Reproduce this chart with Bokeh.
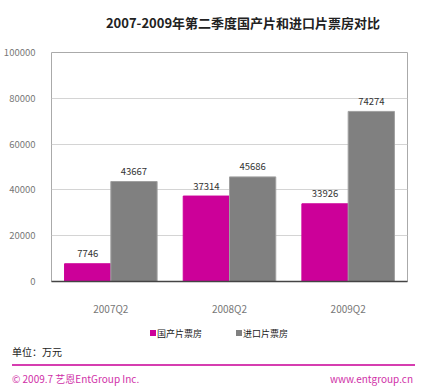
from bokeh.plotting import figure
from bokeh.layouts import column
from bokeh.models import (ColumnDataSource, FactorRange, Range1d, FixedTicker, BasicTickFormatter,
                          LabelSet, Div)
from bokeh.transform import dodge
from bokeh.core.properties import value
from bokeh.embed import file_html
from bokeh.resources import INLINE

categories = ["2007Q2", "2008Q2", "2009Q2"]
domestic = [7746, 37314, 33926]
imported = [43667, 45686, 74274]
y_ticks = [0, 20000, 40000, 60000, 80000, 100000]
series_names = ["国产片票房", "进口片票房"]
title_text = "2007-2009年第二季度国产片和进口片票房对比"
unit_text = "单位：万元"
footer_left = "© 2009.7 艺恩EntGroup Inc."
footer_right = "www.entgroup.cn"

MAGENTA = "#CC0099"
GRAY = "#808080"
FOOT = "#D030A8"
FONT = "Noto Sans CJK SC"
W = 414
DW = 420


def span(x, y, text, size, color, anchor="left", weight="normal"):
    tx = {"left": "0", "center": "-50%", "right": "-100%"}[anchor]
    return (f'<span style="position:absolute;left:{x}px;top:{y}px;'
            f'transform:translate({tx},-50%);white-space:nowrap;line-height:1;'
            f'font-family:\'{FONT}\';font-size:{size};font-weight:{weight};color:{color}">'
            f'{text}</span>')


def box(x, y, w, h, color):
    return (f'<span style="position:absolute;left:{x}px;top:{y}px;width:{w}px;height:{h}px;'
            f'background:{color}"></span>')


def wrap(h, inner):
    return f'<div style="position:relative;width:{DW}px;height:{h}px;background:white">{inner}</div>'


# header
head = Div(text=wrap(44, span(243, 22, title_text, "13px", "#222222", "center", "bold")),
           width=DW, height=44, margin=0)

# main chart
source = ColumnDataSource(dict(cat=categories, dom=domestic, imp=imported,
                               dom_t=[str(v) for v in domestic],
                               imp_t=[str(v) for v in imported]))

p = figure(width=W, height=274, output_backend="svg", toolbar_location=None, title=None,
           x_range=FactorRange(*categories, range_padding=0),
           y_range=Range1d(0, 100000),
           min_border_left=44, min_border_right=7, min_border_top=8, min_border_bottom=37)
p.background_fill_color = "white"
p.border_fill_color = "white"
p.outline_line_color = "#aaaaaa"

bw = 0.39
p.vbar(x=dodge("cat", -bw / 2, range=p.x_range), top="dom", width=bw, source=source,
       fill_color=MAGENTA, line_color=MAGENTA)
p.vbar(x=dodge("cat", bw / 2, range=p.x_range), top="imp", width=bw, source=source,
       fill_color=GRAY, line_color="#a0a0a0")

for col, t, off in (("dom", "dom_t", -bw / 2), ("imp", "imp_t", bw / 2)):
    p.add_layout(LabelSet(x=dodge("cat", off, range=p.x_range), y=col, text=t, source=source,
                          y_offset=10, text_align="center", text_baseline="middle",
                          text_font=value(FONT), text_font_size="9.5px", text_color="#333333"))

p.yaxis.ticker = FixedTicker(ticks=y_ticks)
p.yaxis.formatter = BasicTickFormatter(use_scientific=False)
p.yaxis.major_tick_line_color = None
p.yaxis.minor_tick_line_color = None
p.yaxis.axis_line_color = None
p.yaxis.major_label_text_color = "#777777"
p.yaxis.major_label_text_font = FONT
p.yaxis.major_label_text_font_size = "9.5px"
p.yaxis.major_label_standoff = 10

p.xaxis.major_tick_line_color = None
p.xaxis.minor_tick_line_color = None
p.xaxis.axis_line_color = "#444444"
p.xaxis.axis_line_width = 1.5
p.xaxis.major_label_text_color = "#777777"
p.xaxis.major_label_text_font = FONT
p.xaxis.major_label_text_font_size = "10px"
p.xaxis.major_label_standoff = 13

p.xgrid.grid_line_color = None
p.ygrid.grid_line_color = "#d4d4d4"

# footer: legend, unit, rule, credits
foot_html = (box(150, 12, 6, 6, MAGENTA)
             + span(157, 15, series_names[0], "9px", "#222222")
             + box(236, 12, 6, 6, GRAY)
             + span(243, 15, series_names[1], "9px", "#222222")
             + span(12, 34, unit_text, "10px", "#222222")
             + box(12, 46, 403, 2, "#D63DB0")
             + span(12, 61, footer_left, "10px", FOOT)
             + span(413, 61, footer_right, "10px", FOOT, "right"))
foot = Div(text=wrap(67, foot_html), width=DW, height=67, margin=0)

layout = column(head, p, foot, spacing=0)
open("out.html", "w").write(file_html(layout, INLINE))
